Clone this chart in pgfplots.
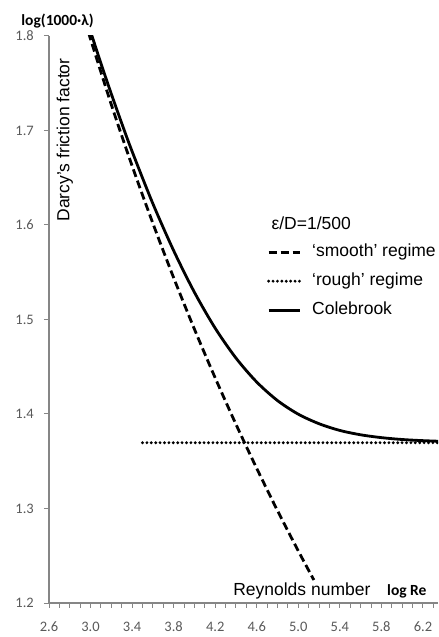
\documentclass[border=0pt]{standalone}
\usepackage{pgfplots}
\pgfplotsset{compat=1.18}
\usepackage{fontspec}
\setmainfont{Carlito}
\newfontfamily\arial{Liberation Sans}
\definecolor{axgray}{RGB}{134,134,134}
\definecolor{tickgray}{RGB}{89,89,89}

% Prandtl (smooth pipe) and Colebrook values, eps/D = 1/500
\pgfplotstableread{
logRe  y
2.98   1.8037
3.20   1.7274
3.40   1.6626
3.60   1.6018
3.80   1.5442
4.00   1.4898
4.20   1.4382
4.40   1.3891
4.60   1.3424
4.80   1.2977
5.00   1.2551
5.15   1.2243
}\smooth

\pgfplotstableread{
logRe  y
3.00   1.8048
3.10   1.7710
3.20   1.7387
3.30   1.7077
3.40   1.6779
3.60   1.6226
3.80   1.5729
4.00   1.5288
4.20   1.4908
4.40   1.4592
4.60   1.4338
4.80   1.4142
5.00   1.3998
5.20   1.3897
5.40   1.3826
5.60   1.3780
5.80   1.3750
6.00   1.3730
6.20   1.3718
6.40   1.3710
}\colebrook

\begin{document}
\begin{tikzpicture}
\begin{axis}[
  scale only axis,
  width=389bp, height=567bp,
  xmin=2.6, xmax=6.345,
  ymin=1.2, ymax=1.8,
  axis lines*=left,
  axis line style={axgray, line width=1.2bp},
  clip mode=individual,
  xtick={2.6,3.0,3.4,3.8,4.2,4.6,5.0,5.4,5.8,6.2},
  minor xtick={2.7,2.8,2.9,3.1,3.2,3.3,3.5,3.6,3.7,3.9,4.0,4.1,4.3,4.4,4.5,4.7,4.8,4.9,5.1,5.2,5.3,5.5,5.6,5.7,5.9,6.0,6.1,6.3},
  ytick={1.2,1.3,1.4,1.5,1.6,1.7,1.8},
  tick align=outside,
  major tick length=5bp, minor tick length=5bp,
  every tick/.style={axgray, line width=1bp},
  /pgf/number format/assume math mode=true,
  xticklabel style={/pgf/number format/.cd, fixed, fixed zerofill, precision=1},
  yticklabel style={/pgf/number format/.cd, fixed, fixed zerofill, precision=1},
  ticklabel style={font=\fontsize{14.5bp}{16bp}\selectfont, text=tickgray, inner sep=0pt, text height=9.5bp, text depth=0bp},
  xticklabel shift=14bp,
  yticklabel shift=10bp,
  legend style={at={(rel axis cs:0.560,0.635)}, anchor=north west,
    draw=none, fill=none, inner sep=0pt,
    font=\arial\fontsize{17.5bp}{20bp}\selectfont,
    row sep=11bp, column sep=10bp,
    nodes={inner sep=1bp, text height=12.5bp, text depth=3.5bp}},
  legend cell align=left,
  legend image code/.code={\draw[#1] (0bp,0bp) -- (31bp,0bp);},
]
\addplot[black, line width=2.8bp, dash pattern=on 8bp off 4bp, smooth] table[x=logRe, y=y] {\smooth};
\addlegendentry{‘smooth’ regime}
\addplot[black, line width=3.2bp, line cap=round, dash pattern=on 0bp off 4.4bp] coordinates {(3.5,1.3696) (6.345,1.3696)};
\addlegendentry{‘rough’ regime}
\addplot[black, line width=2.8bp, smooth] table[x=logRe, y=y] {\colebrook};
\addlegendentry{Colebrook}

\node[anchor=base west, font=\arial\fontsize{17.5bp}{20bp}\selectfont] at (rel axis cs:0.563,0.6596) {ε/D=1/500};
\node[rotate=90, font=\arial\fontsize{17.5bp}{20bp}\selectfont] at (rel axis cs:0.041,0.8166) {Darcy’s friction factor};
\node[anchor=base, font=\arial\fontsize{17.5bp}{20bp}\selectfont] at (rel axis cs:0.650,0.0141) {Reynolds number};
\node[anchor=base, font=\bfseries\fontsize{15.5bp}{18bp}\selectfont] at (rel axis cs:0.920,0.0141) {log Re};
\node[anchor=base, font=\bfseries\fontsize{15.5bp}{18bp}\selectfont] at (rel axis cs:0.022,1.018) {log(1000·λ)};
\coordinate (O) at (rel axis cs:0,0);
\end{axis}
\path (O) ++(-49bp,-34bp) rectangle ++(439bp,637bp);
\end{tikzpicture}
\end{document}
